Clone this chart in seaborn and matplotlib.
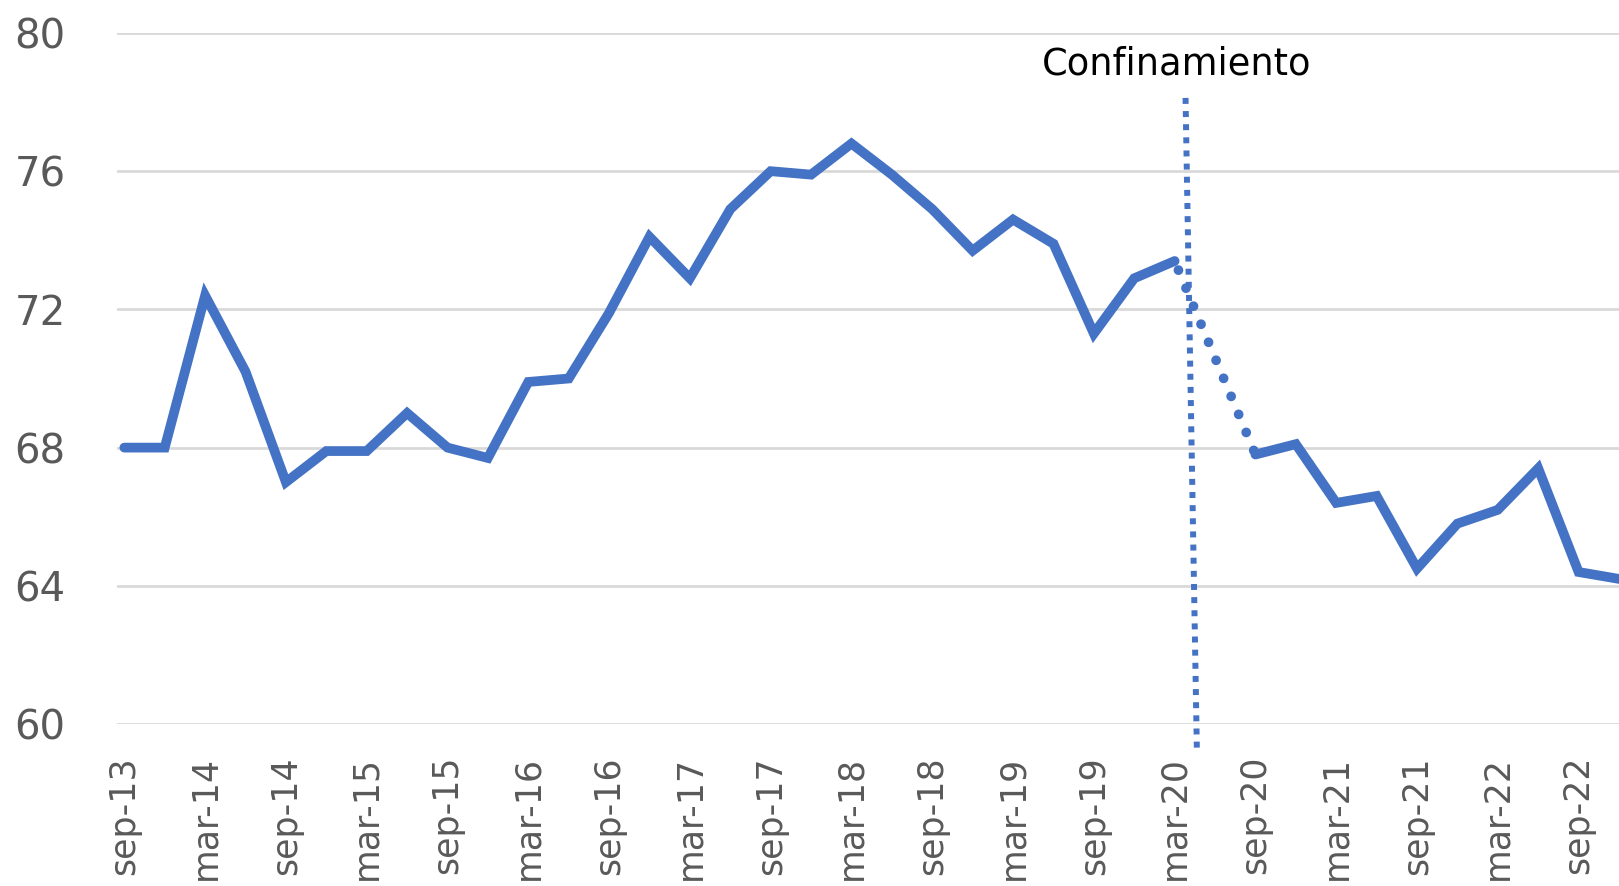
import numpy as np
import pandas as pd
import matplotlib
matplotlib.use("Agg")
import matplotlib.pyplot as plt
import seaborn as sns

# quarterly values, sep-13 .. dec-22 (jun-20 missing)
quarters = ['sep-13', 'dec-13', 'mar-14', 'jun-14', 'sep-14', 'dec-14', 'mar-15', 'jun-15',
            'sep-15', 'dec-15', 'mar-16', 'jun-16', 'sep-16', 'dec-16', 'mar-17', 'jun-17',
            'sep-17', 'dec-17', 'mar-18', 'jun-18', 'sep-18', 'dec-18', 'mar-19', 'jun-19',
            'sep-19', 'dec-19', 'mar-20', 'jun-20', 'sep-20', 'dec-20', 'mar-21', 'jun-21',
            'sep-21', 'dec-21', 'mar-22', 'jun-22', 'sep-22', 'dec-22']
values = [68.0, 68.0, 72.4, 70.2, 67.0, 67.9, 67.9, 69.0,
          68.0, 67.7, 69.9, 70.0, 71.9, 74.1, 72.9, 74.9,
          76.0, 75.9, 76.8, 75.9, 74.9, 73.7, 74.6, 73.9,
          71.3, 72.9, 73.4, np.nan, 67.8, 68.1, 66.4, 66.6,
          64.5, 65.8, 66.2, 67.4, 64.4, 64.2]
yticks = [60, 64, 68, 72, 76, 80]
event_label = 'Confinamiento'

blue = '#4472C4'
grey = '#595959'

df = pd.DataFrame({'q': np.arange(len(quarters)), 'label': quarters, 'v': values})
before = df[df.q <= 26]
after = df[df.q >= 28]
bridge = df[df.q.isin([26, 28])]

sns.set_style("white")
plt.rcParams['font.family'] = ['DejaVu Sans']

fig = plt.figure(figsize=(16.19, 8.86), dpi=100)
ax = fig.add_axes([0.0723, 0.1828, 0.9277, 0.78])

for y in yticks:
    ax.axhline(y, color='#D9D9D9', lw=2, zorder=0)

lw = 7
sns.lineplot(data=before, x='q', y='v', color=blue, lw=lw, ax=ax,
             solid_capstyle='round', solid_joinstyle='miter')
sns.lineplot(data=after, x='q', y='v', color=blue, lw=lw, ax=ax,
             solid_capstyle='round', solid_joinstyle='miter')
sns.lineplot(data=bridge, x='q', y='v', color=blue, lw=lw, ax=ax,
             linestyle=(1.0, (0.01, 2.0)), dash_capstyle='round')

# lockdown marker
ax.plot([26.27, 26.55], [78.12, 59.28], color=blue, lw=4.3,
        linestyle=(0, (1, 1.2)), clip_on=False, zorder=3)
ax.text(26.04, 79.1, event_label, ha='center', va='center', fontsize=26.5, color='black')

ax.set_xlim(-0.18, 37)
ax.set_ylim(60, 80)
ax.set_yticks(yticks)
ax.set_yticklabels([str(t) for t in yticks], fontsize=29, color=grey)
tick_pos = list(range(0, len(quarters), 2))
ax.set_xticks(tick_pos)
ax.set_xticklabels([quarters[i] for i in tick_pos], rotation=90, fontsize=25, color=grey, va='top')
ax.tick_params(axis='y', length=0, pad=37)
ax.tick_params(axis='x', length=0, pad=23)
ax.set_xlabel('')
ax.set_ylabel('')
for s in ax.spines.values():
    s.set_visible(False)

fig.savefig('out.png', dpi=100)
